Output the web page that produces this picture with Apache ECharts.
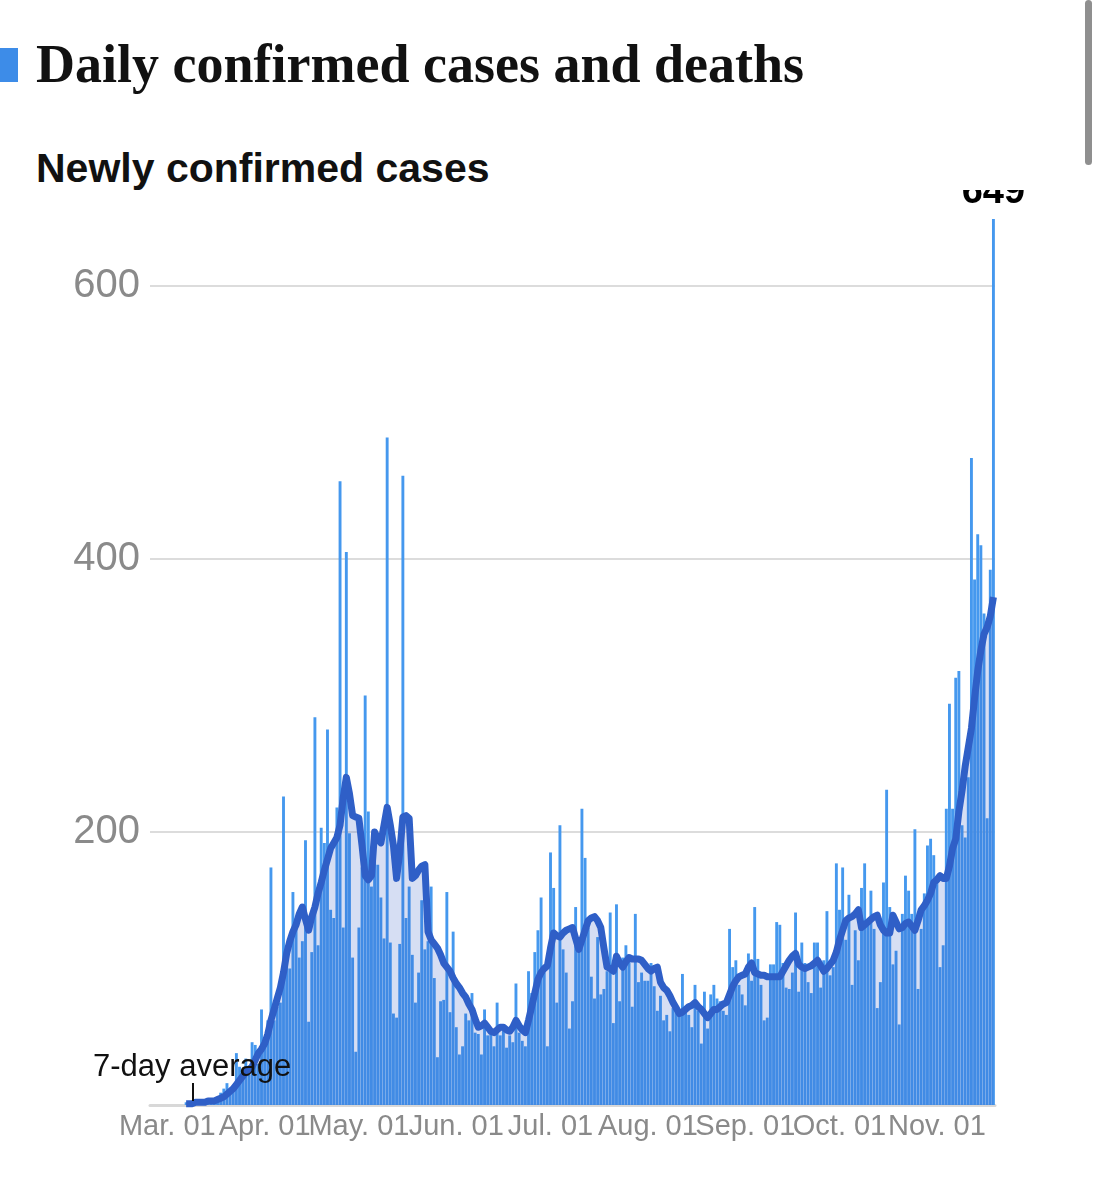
<!DOCTYPE html>
<html>
<head>
<meta charset="utf-8">
<title>Daily confirmed cases and deaths</title>
<script src="https://cdn.jsdelivr.net/npm/echarts@6/dist/echarts.min.js"></script>
<style>
    body { margin: 0; width: 1096px; height: 1200px; background: #fff; overflow: hidden; position: relative; }
    #mark { position: absolute; left: 0; top: 48px; width: 18px; height: 34px; background: #3d8ce8; }
    #title { position: absolute; left: 36px; top: 37px; font: bold 54px/54px "Liberation Serif", serif; color: #111; white-space: nowrap; }
    #sub { position: absolute; left: 36px; top: 148px; font: bold 41px/41px "Liberation Sans", sans-serif; color: #111; white-space: nowrap; }
    #scroll { position: absolute; left: 1085px; top: 0; width: 7px; height: 165px; border-radius: 4px; background: #8f8f8f; }
    #chart { position: absolute; left: 0; top: 190px; width: 1096px; height: 1010px; }
</style>
</head>
<body>
<div id="mark"></div>
<div id="title">Daily confirmed cases and deaths</div>
<div id="sub">Newly confirmed cases</div>
<div id="scroll"></div>
<div id="chart"></div>
<script>
// daily new cases, one value per day from 2020-03-01
var dailyCases = [
    0, 0, 0, 0, 0, 0, 2, 1, 3, 1, 2, 4, 4, 1, 2, 3, 4, 9, 12, 16, 10, 14, 38, 28, 20, 34, 22, 46, 44, 30, 70, 42, 62,
    174, 62, 72, 75, 226, 110, 100, 156, 137, 108, 120, 194, 61, 112, 284, 117, 203, 192, 275, 143, 137, 218, 457, 130, 405,
    199, 108, 39, 130, 174, 300, 215, 160, 200, 176, 152, 122, 489, 119, 67, 64, 118, 461, 137, 160, 110, 75, 97,
    150, 114, 120, 160, 93, 35, 76, 77, 156, 68, 127, 57, 37, 43, 67, 62, 82, 53, 52, 37, 70, 51, 53, 43, 75, 51, 56,
    42, 51, 46, 89, 53, 47, 43, 98, 82, 112, 128, 152, 97, 43, 185, 159, 75, 205, 114, 97, 56, 76, 145, 123, 217, 181,
    130, 94, 78, 123, 81, 85, 98, 141, 60, 147, 76, 108, 117, 105, 72, 140, 90, 97, 91, 91, 104, 87, 69, 80, 62, 66, 54,
    71, 69, 66, 96, 71, 66, 57, 88, 69, 45, 83, 56, 81, 88, 78, 76, 69, 66, 129, 101, 106, 88, 81, 73, 111, 91, 145, 107, 88,
    62, 64, 103, 103, 134, 132, 104, 86, 85, 97, 141, 83, 119, 104, 90, 82, 119, 119, 86, 106, 142, 95, 101, 177, 143, 174,
    121, 154, 88, 128, 106, 159, 177, 132, 157, 129, 71, 90, 163, 231, 145, 103, 113, 59, 140, 168, 157, 140, 202, 85, 129,
    155, 190, 195, 183, 166, 101, 117, 217, 294, 217, 313, 318, 205, 196, 240, 474, 385, 418, 410, 360, 210, 392, 649
];

// 7-day average as drawn (no value for the first six days)
var avg7 = [
    null, null, null, null, null, null, 1, 1, 1, 2, 2, 2, 2, 3, 3, 3, 4, 5, 6, 8, 10, 12, 15, 18, 21, 24, 26, 28, 33, 38, 41, 45, 52,
    62, 70, 78, 86, 97, 111, 120, 127, 132, 140, 145, 136, 128, 138, 145, 155, 163, 172, 180, 188, 192, 196, 205, 225, 240,
    228, 212, 211, 210, 190, 168, 165, 168, 200, 195, 192, 205, 218, 205, 190, 166, 185, 211, 212, 210, 166, 168, 172,
    175, 176, 127, 121, 118, 115, 110, 104, 101, 98, 93, 89, 86, 82, 79, 74, 70, 63, 57, 58, 60, 57, 54, 53, 55, 57, 57,
    55, 54, 57, 62, 58, 55, 53, 62, 72, 82, 92, 97, 100, 102, 115, 126, 124, 123, 126, 128, 129, 130, 122, 114, 121, 128,
    135, 137, 138, 135, 130, 115, 101, 100, 98, 109, 104, 101, 105, 108, 107, 107, 107, 106, 103, 100, 98, 100, 101, 90, 86, 84, 80,
    75, 71, 67, 68, 70, 72, 73, 75, 72, 70, 67, 64, 67, 70, 70, 72, 74, 75, 81, 87, 91, 94, 95, 96, 101, 104, 97, 96, 95,
    95, 94, 94, 94, 94, 94, 98, 102, 106, 109, 111, 103, 101, 100, 101, 102, 104, 106, 102, 98, 100, 103, 106, 112, 121, 128,
    135, 137, 138, 140, 143, 130, 132, 134, 136, 138, 139, 132, 128, 126, 126, 139, 134, 129, 130, 133, 134, 131, 128, 135, 143,
    146, 150, 155, 163, 165, 168, 166, 166, 175, 188, 195, 215, 230, 248, 262, 276, 298, 318, 333, 345, 350, 358, 372
];

var yTicks = [200, 400, 600];
var monthNames = ['Jan.', 'Feb.', 'Mar.', 'Apr.', 'May.', 'Jun.', 'Jul.', 'Aug.', 'Sep.', 'Oct.', 'Nov.', 'Dec.'];

// a few empty days before Mar. 01 so the axis starts a little left of the first bar
var padDays = 5;
var dates = [];
var barData = [];
var lineData = [];
for (var i = 0; i < padDays + dailyCases.length; i++) {
    var d = new Date(Date.UTC(2020, 1, 25 + i));
    var mm = ('0' + (d.getUTCMonth() + 1)).slice(-2);
    var dd = ('0' + d.getUTCDate()).slice(-2);
    dates.push(d.getUTCFullYear() + '-' + mm + '-' + dd);
    barData.push(i < padDays ? null : dailyCases[i - padDays]);
    lineData.push(i < padDays ? null : avg7[i - padDays]);
}
var lastIndex = barData.length - 1;

var chart = echarts.init(document.getElementById('chart'));

var option = {
    animation: false,
    grid: { left: 150, right: 101, top: 14, bottom: 95 },
    xAxis: {
        type: 'category',
        data: dates,
        boundaryGap: true,
        axisTick: { show: false },
        axisLine: { lineStyle: { color: '#d8d8d8', width: 3 } },
        axisLabel: {
            interval: function (index, value) { return value.slice(-2) === '01' && index >= padDays; },
            formatter: function (value) {
                return monthNames[parseInt(value.slice(5, 7), 10) - 1] + ' ' + value.slice(-2);
            },
            color: '#8a8a8a',
            fontFamily: 'Liberation Sans',
            fontSize: 29,
            margin: 7
        }
    },
    yAxis: {
        type: 'value',
        min: 0,
        max: 660,
        interval: 200,
        axisLine: { show: false },
        axisTick: { show: false },
        axisLabel: {
            formatter: function (v) { return yTicks.indexOf(v) >= 0 ? String(v) : ''; },
            showMaxLabel: false,
            color: '#8a8a8a',
            fontFamily: 'Liberation Sans',
            fontSize: 40,
            margin: 10
        },
        splitLine: {
            showMinLine: false,
            showMaxLine: false,
            lineStyle: { color: '#dcdcdc', width: 2 }
        }
    },
    series: [{
        name: 'Newly confirmed cases',
        type: 'bar',
        data: barData,
        barCategoryGap: '8%',
        itemStyle: { color: '#4598ee' },
        label: {
            show: true,
            position: 'top',
            distance: 8,
            formatter: function (p) { return p.dataIndex === lastIndex ? String(p.value) : ''; },
            color: '#000',
            fontFamily: 'Liberation Sans',
            fontWeight: 'bold',
            fontSize: 38
        },
        z: 2
    }, {
        name: '7-day average',
        type: 'line',
        data: lineData,
        showSymbol: false,
        connectNulls: false,
        lineStyle: { color: '#2f5fc7', width: 7, join: 'round' },
        areaStyle: { color: 'rgba(48, 90, 195, 0.285)', origin: 'start' },
        z: 3
    }],
    graphic: [{
        type: 'text',
        left: 93,
        top: 862,
        z: 10,
        style: { text: '7-day average', fill: '#111', font: '31px "Liberation Sans"' }
    }, {
        type: 'line',
        z: 10,
        shape: { x1: 193, y1: 893, x2: 193, y2: 911 },
        style: { stroke: '#111', lineWidth: 2 }
    }]
};

chart.setOption(option);
</script>
</body>
</html>
